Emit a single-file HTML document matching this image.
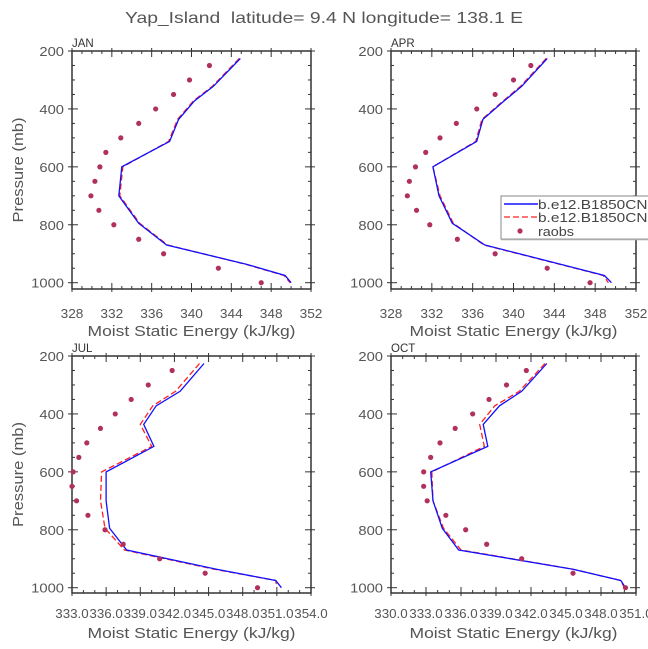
<!DOCTYPE html>
<html><head><meta charset="utf-8"><style>
body{margin:0;background:#fff}
svg{display:block;font-family:"Liberation Sans",sans-serif}
</style></head><body>
<svg id="chart" width="648" height="649" viewBox="0 0 648 649" xmlns="http://www.w3.org/2000/svg">
<text x="125" y="23" font-size="16" fill="#555" textLength="398" lengthAdjust="spacingAndGlyphs" xml:space="preserve">Yap_Island  latitude= 9.4 N longitude= 138.1 E</text>
</svg>
<script>
const modelLevels=[226,322,372,436,512,600,700,795,870,936,975,1000];
const obsLevels=[250,300,350,400,450,500,550,600,650,700,750,800,850,900,950,1000];
const janBlue=[344.9,342.2,340.3,338.7,337.8,333.0,332.7,334.7,337.5,345.5,349.4,350.0];
const janRed=[344.8,342.1,340.2,338.6,337.7,333.1,332.8,334.8,337.6,345.4,349.3,349.9];
const janObs=[341.8,339.8,338.2,336.4,334.7,332.9,331.4,330.8,330.3,329.9,330.7,332.2,334.7,337.2,342.7,347.0];
const aprBlue=[343.3,340.8,339.1,337.0,336.4,332.1,332.7,334.0,337.2,344.6,348.9,349.6];
const aprRed=[343.2,340.7,339.0,336.9,336.3,332.1,332.8,334.1,337.1,344.5,348.8,349.3];
const aprObs=[341.7,340.0,338.2,336.4,334.4,332.8,331.4,330.4,329.8,329.6,330.5,331.8,334.5,338.2,343.3,347.5];
const julBlue=[344.6,342.5,340.4,339.3,340.2,336.0,336.0,336.3,337.8,345.7,350.9,351.4];
const julRed=[344.2,342.1,340.1,339.0,340.0,335.6,335.5,335.9,337.6,345.5,350.9,351.0];
const julObs=[341.8,339.7,338.2,336.8,335.5,334.3,333.6,333.1,333.0,333.4,334.4,335.9,337.5,340.7,344.7,349.3];
const octBlue=[343.35,341.2,339.3,337.9,338.3,333.4,333.6,334.4,335.8,345.6,349.7,350.1];
const octRed=[343.2,341.0,338.9,337.6,338.0,333.5,333.6,334.5,336.0,345.6,349.7,350.0];
const octObs=[341.6,339.9,338.4,337.0,335.5,334.2,333.4,332.8,332.8,333.1,334.7,336.4,338.2,341.2,345.6,350.1];
const janTicks=["328","332","336","340","344","348","352"];
const aprTicks=["328","332","336","340","344","348","352"];
const julTicks=["333.0","336.0","339.0","342.0","345.0","348.0","351.0","354.0"];
const octTicks=["330.0","333.0","336.0","339.0","342.0","345.0","348.0","351.0"];
const pTicks=[200,400,600,800,1000];

const NS="http://www.w3.org/2000/svg";
const svg=document.getElementById('chart');
function mk(tag,attrs,parent){const e=document.createElementNS(NS,tag);for(const k in attrs)e.setAttribute(k,attrs[k]);(parent||svg).appendChild(e);return e;}
function tlen(s){let w=0;for(const c of s)w+=(c==='.')?3:7.6;return w;}

const panels=[
 {name:'jan',label:'JAN',x0:72,x1:311,top:51,p1000:282.7,bot:289,xmin:328,xmax:352,step:4,ticks:janTicks,blue:janBlue,red:janRed,obs:janObs,ytitle:true,tlY:318,ttY:336},
 {name:'apr',label:'APR',x0:391,x1:636,top:51,p1000:282.7,bot:289,xmin:328,xmax:352,step:4,ticks:aprTicks,blue:aprBlue,red:aprRed,obs:aprObs,ytitle:false,tlY:318,ttY:336},
 {name:'jul',label:'JUL',x0:72,x1:311,top:356,p1000:587.7,bot:593,xmin:333,xmax:354,step:3,ticks:julTicks,blue:julBlue,red:julRed,obs:julObs,ytitle:true,tlY:618,ttY:638},
 {name:'oct',label:'OCT',x0:391,x1:636,top:356,p1000:587.7,bot:593,xmin:330,xmax:351,step:3,ticks:octTicks,blue:octBlue,red:octRed,obs:octObs,ytitle:false,tlY:618,ttY:638}
];

panels.forEach(P=>{
 const g=mk('g',{});
 
 
 const X=v=>P.x0+(v-P.xmin)/(P.xmax-P.xmin)*(P.x1-P.x0);
 const Y=p=>P.top+(p-200)/800*(P.p1000-P.top);
 for(let v=P.xmin;v<=P.xmax+1e-9;v+=1){
  const x=X(v);const major=Math.abs(((v-P.xmin)/P.step)-Math.round((v-P.xmin)/P.step))<1e-6;
  const L=major?6:3;
  mk('line',{x1:x,x2:x,y1:P.bot,y2:P.bot-L,stroke:'#333','stroke-width':1},g);
  mk('line',{x1:x,x2:x,y1:P.top,y2:P.top+L,stroke:'#333','stroke-width':1},g);
  if(major){mk('line',{x1:x,x2:x,y1:P.bot,y2:P.bot+3,stroke:'#333'},g);mk('line',{x1:x,x2:x,y1:P.top,y2:P.top-3,stroke:'#333'},g);}
 }
 for(let p=200;p<=1000;p+=50){
  const y=Y(p);const major=p%200===0;const L=major?6:3;
  mk('line',{x1:P.x0,x2:P.x0+L,y1:y,y2:y,stroke:'#333'},g);
  mk('line',{x1:P.x1,x2:P.x1-L,y1:y,y2:y,stroke:'#333'},g);
  if(major){mk('line',{x1:P.x0,x2:P.x0-4,y1:y,y2:y,stroke:'#333'},g);mk('line',{x1:P.x1,x2:P.x1+4,y1:y,y2:y,stroke:'#333'},g);}
 }
 const frame=mk('rect',{x:P.x0,y:P.top,width:P.x1-P.x0,height:P.bot-P.top,fill:'none',stroke:'#333','stroke-width':1.5},g);
 
 
 P.ticks.forEach((t,i)=>{
  const w=tlen(t);
  const tx=mk('text',{x:X(P.xmin+i*P.step)-w/2,y:P.tlY,'font-size':13,fill:'#555',textLength:w,lengthAdjust:'spacingAndGlyphs'},g);
  tx.textContent=t;
  
  
 });
 pTicks.forEach(p=>{
  const s=String(p);const w=s.length*8.2;
  const tx=mk('text',{x:P.x0-8-w,y:Y(p)+5,'font-size':13,fill:'#555',textLength:w,lengthAdjust:'spacingAndGlyphs'},g);
  tx.textContent=s;
  
  
 });
 const xt=mk('text',{x:(P.x0+P.x1)/2-104,y:P.ttY,'font-size':14.5,fill:'#555',textLength:208,lengthAdjust:'spacingAndGlyphs'},g);
 xt.textContent='Moist Static Energy (kJ/kg)';
 
 
 if(P.ytitle){
  const cy=(P.top+P.bot)/2;
  const yt=mk('text',{x:18-52,y:cy+5,'font-size':14.5,fill:'#555',textLength:105,lengthAdjust:'spacingAndGlyphs',transform:'rotate(-90 18 '+cy+')'},g);
  yt.setAttribute('x',18-52.5);
  yt.textContent='Pressure (mb)';
  
  
 }
 const pl=mk('text',{x:P.x0,y:P.top-4,'font-size':11.5,fill:'#333'},g);
 pl.textContent=P.label;
 
 
 const pts=a=>a.map((v,i)=>X(v).toFixed(1)+','+Y(modelLevels[i]).toFixed(1)).join(' ');
 const r=mk('polyline',{points:pts(P.red),fill:'none',stroke:'#ff2020','stroke-width':1.3,'stroke-dasharray':'6,3'},g);
 
 
 const b=mk('polyline',{points:pts(P.blue),fill:'none',stroke:'#1010ff','stroke-width':1.3},g);
 
 
 P.obs.forEach((v,i)=>{
  const c=mk('circle',{cx:X(v),cy:Y(obsLevels[i]),r:2.6,fill:'#b03060'},g);
  
  
 });
});

const lg=mk('g',{});


mk('rect',{x:501,y:196,width:160,height:43,fill:'#fff',stroke:'#888','stroke-width':1},lg);
mk('line',{x1:501,x2:648,y1:239.5,y2:239.5,stroke:'#aaa','stroke-width':1.5},lg);
mk('line',{x1:504,x2:538,y1:204,y2:204,stroke:'#1010ff','stroke-width':1.5},lg);
mk('line',{x1:504,x2:538,y1:217,y2:217,stroke:'#ff2020','stroke-width':1.3,'stroke-dasharray':'6,3'},lg);
mk('circle',{cx:520,cy:231,r:2.6,fill:'#b03060'},lg);
[['b.e12.B1850CN.f',209,'legend-entry-blue',118],['b.e12.B1850CN.f',222,'legend-entry-red',118],['raobs',236,'legend-entry-raobs',36]].forEach(d=>{
 const t=mk('text',{x:538,y:d[1],'font-size':13,fill:'#444',textLength:d[3],lengthAdjust:'spacingAndGlyphs'},lg);
 t.textContent=d[0];
 
 
});
</script>
</body></html>
